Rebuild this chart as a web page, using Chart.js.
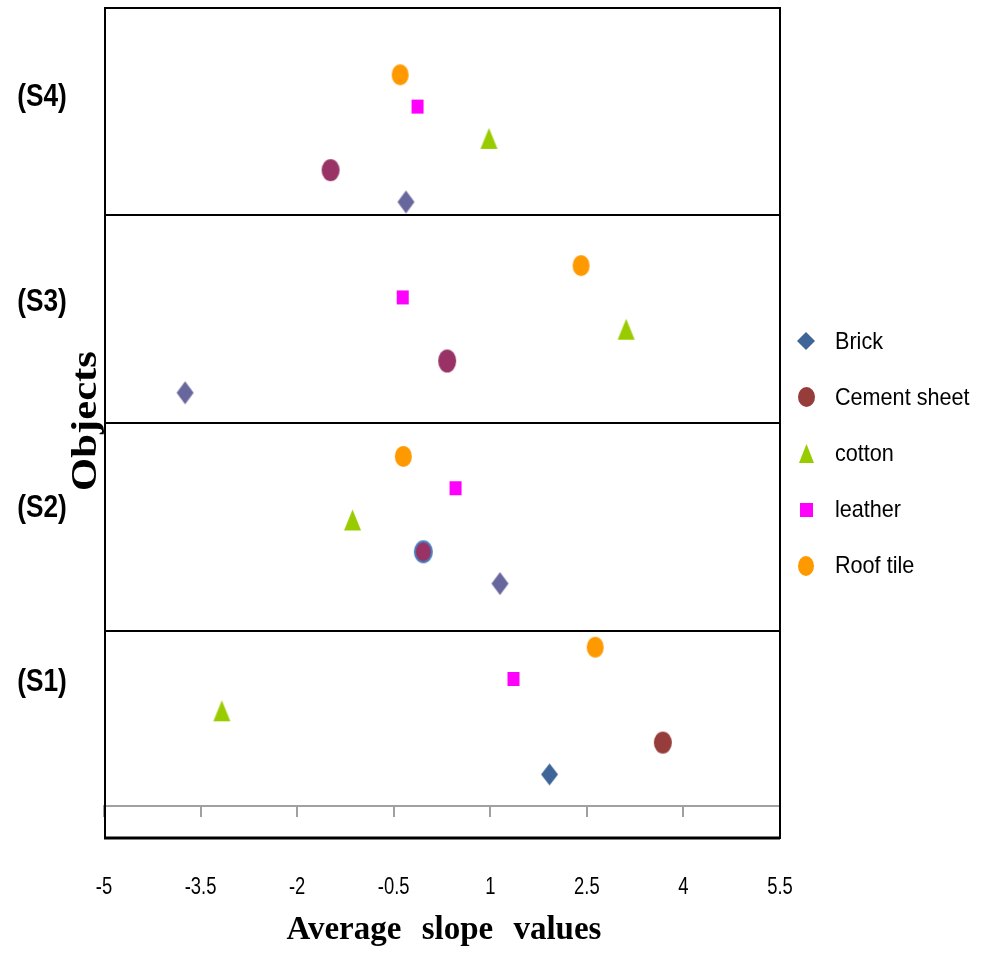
<!DOCTYPE html>
<html>
<head>
<meta charset="utf-8">
<script src="https://cdn.jsdelivr.net/npm/chart.js@4.4.1/dist/chart.umd.min.js"></script>
<style>
  html, body { margin: 0; padding: 0; background: #fff; }
  #wrap { width: 984px; height: 957px; position: relative; }
</style>
</head>
<body>
<div id="wrap"><canvas id="c" width="984" height="957"></canvas></div>
<script>
// Average slope value of each material, per object group
const groups = ['(S1)', '(S2)', '(S3)', '(S4)'];
const seriesNames = ['Brick', 'Cement sheet', 'cotton', 'leather', 'Roof tile'];
const brick       = [1.92, 1.15, -3.74, -0.31];
const cementSheet = [3.68, -0.04, 0.33, -1.48];
const cotton      = [-3.17, -1.14, 3.11, 0.98];
const leather     = [1.36, 0.46, -0.36, -0.13];
const roofTile    = [2.63, -0.35, 2.41, -0.40];
const xTicks      = [-5, -3.5, -2, -0.5, 1, 2.5, 4, 5.5];

const SANS = '"Liberation Sans", Arial, sans-serif';
const SERIF = '"Liberation Serif", "Times New Roman", serif';

// Builds a small bitmap marker used as a Chart.js pointStyle
function marker(shape, fill, w, h, ring) {
  const pad = ring ? 3 : 1;
  const c = document.createElement('canvas');
  c.width = Math.round(w + pad * 2);
  c.height = Math.round(h + pad * 2);
  const g = c.getContext('2d');
  const cx = c.width / 2, cy = c.height / 2;
  g.fillStyle = fill;
  g.beginPath();
  if (shape === 'ellipse') {
    g.ellipse(cx, cy, w / 2, h / 2, 0, 0, Math.PI * 2);
  } else if (shape === 'diamond') {
    g.moveTo(cx, cy - h / 2); g.lineTo(cx + w / 2, cy);
    g.lineTo(cx, cy + h / 2); g.lineTo(cx - w / 2, cy); g.closePath();
  } else if (shape === 'triangle') {
    g.moveTo(cx, cy - h / 2); g.lineTo(cx + w / 2, cy + h / 2);
    g.lineTo(cx - w / 2, cy + h / 2); g.closePath();
  } else {
    g.rect(cx - w / 2, cy - h / 2, w, h);
  }
  g.fill();
  if (ring) { g.lineWidth = 2; g.strokeStyle = ring; g.stroke(); }
  return c;
}

// Marker style per point (one per group)
const styles = [
  [marker('diamond', '#3F6598', 17, 22), marker('diamond', '#67679D', 17, 23), marker('diamond', '#67679D', 17, 23), marker('diamond', '#67679D', 17, 23)],
  [marker('ellipse', '#963C3A', 18, 22), marker('ellipse', '#993366', 17, 21, '#4A7EBB'), marker('ellipse', '#993366', 18, 23), marker('ellipse', '#993366', 18, 22)],
  [0, 1, 2, 3].map(() => marker('triangle', '#99CC00', 17, 21)),
  [0, 1, 2, 3].map(() => marker('rect', '#FF00FF', 12, 14)),
  [0, 1, 2, 3].map(() => marker('ellipse', '#FF9900', 17, 21))
];
const legendMarkers = [
  marker('diamond', '#3F6598', 18, 18),
  marker('ellipse', '#963C3A', 17, 20),
  marker('triangle', '#99CC00', 15, 19),
  marker('rect', '#FF00FF', 13, 14),
  marker('ellipse', '#FF9900', 16, 20)
];

// Each group gets six rows; series fill rows 1..5 inside it
const rowOf = (g, s) => g * 6 + s + 1;
const seriesValues = [brick, cementSheet, cotton, leather, roofTile];
const datasets = seriesValues.map((vals, s) => ({
  label: seriesNames[s],
  data: vals.map((v, g) => ({ x: v, y: rowOf(g, s) })),
  pointStyle: styles[s],
  pointRadius: 9,
  showLine: false
}));

const Y_MIN = -1, Y_MAX = 25.1;

// Text squeezed horizontally by sx
function squeezedText(ctx, text, x, y, sx) {
  ctx.save();
  ctx.translate(x, y);
  ctx.scale(sx, 1);
  ctx.fillText(text, 0, 0);
  ctx.restore();
}

const framePlugin = {
  id: 'frame',
  beforeDatasetsDraw(chart) {
    const { ctx, chartArea: a, scales: { y } } = chart;
    ctx.save();
    ctx.strokeStyle = '#000';
    ctx.lineWidth = 2;
    ctx.strokeRect(a.left + 1, a.top, a.right - a.left - 1, a.bottom - a.top);
    ctx.lineWidth = 3;
    ctx.beginPath(); ctx.moveTo(a.left, a.bottom); ctx.lineTo(a.right, a.bottom); ctx.stroke();
    ctx.lineWidth = 2;
    for (let k = 1; k < 4; k++) {
      const py = Math.round(y.getPixelForValue(Y_MIN + (Y_MAX - Y_MIN) * k / 4));
      ctx.beginPath(); ctx.moveTo(a.left, py); ctx.lineTo(a.right, py); ctx.stroke();
    }
    ctx.restore();
  },
  afterDraw(chart) {
    const { ctx, scales: { x, y } } = chart;
    ctx.save();
    ctx.fillStyle = '#000';

    // x tick labels
    ctx.font = '23px ' + SANS;
    ctx.textAlign = 'center';
    ctx.textBaseline = 'middle';
    x.ticks.forEach((t) => {
      squeezedText(ctx, String(t.value), x.getPixelForValue(t.value), 888, 0.8);
    });

    // group names on the left
    const groupLabelRows = [3.9, 9.38, 15.85, 22.29];
    ctx.font = 'bold 32px ' + SANS;
    groups.forEach((name, g) => {
      squeezedText(ctx, name, 42, y.getPixelForValue(groupLabelRows[g]), 0.82);
    });

    // vertical axis title
    ctx.save();
    ctx.translate(96, 421);
    ctx.rotate(-Math.PI / 2);
    ctx.scale(1.22, 1);
    ctx.font = 'bold 35px ' + SERIF;
    ctx.textAlign = 'center';
    ctx.textBaseline = 'alphabetic';
    ctx.fillText('Objects', 0, 0);
    ctx.restore();

    // horizontal axis title
    ctx.save();
    ctx.font = 'bold 33px ' + SERIF;
    if ('wordSpacing' in ctx) ctx.wordSpacing = '12px';
    ctx.textAlign = 'center';
    ctx.textBaseline = 'alphabetic';
    ctx.fillText('Average slope values', 444, 939);
    ctx.restore();

    // legend
    ctx.font = '24px ' + SANS;
    ctx.textAlign = 'left';
    ctx.textBaseline = 'middle';
    seriesNames.forEach((name, s) => {
      const cy = 341 + s * 56.2;
      const m = legendMarkers[s];
      ctx.drawImage(m, Math.round(806 - m.width / 2), Math.round(cy - m.height / 2));
      squeezedText(ctx, name, 835, cy + 1, 0.9);
    });
    ctx.restore();
  }
};

new Chart(document.getElementById('c').getContext('2d'), {
  type: 'scatter',
  data: { datasets },
  options: {
    responsive: false,
    animation: false,
    events: [],
    layout: { autoPadding: false, padding: { left: 104, right: 204, top: 8, bottom: 119 } },
    plugins: { legend: { display: false }, tooltip: { enabled: false } },
    scales: {
      x: {
        type: 'linear',
        min: -5,
        max: 5.5,
        position: { y: 0 },
        afterBuildTicks: (scale) => { scale.ticks = xTicks.map(v => ({ value: v })); },
        afterFit: (scale) => {
          scale.paddingTop = 0; scale.paddingBottom = 0;
          scale.paddingLeft = 0; scale.paddingRight = 0;
        },
        ticks: { display: false },
        grid: { drawOnChartArea: false, drawTicks: true, tickLength: 10, color: '#A0A0A0', lineWidth: 2 },
        border: { display: true, color: '#A0A0A0', width: 2 }
      },
      y: { type: 'linear', min: Y_MIN, max: Y_MAX, display: false }
    }
  },
  plugins: [framePlugin]
});
</script>
</body>
</html>
